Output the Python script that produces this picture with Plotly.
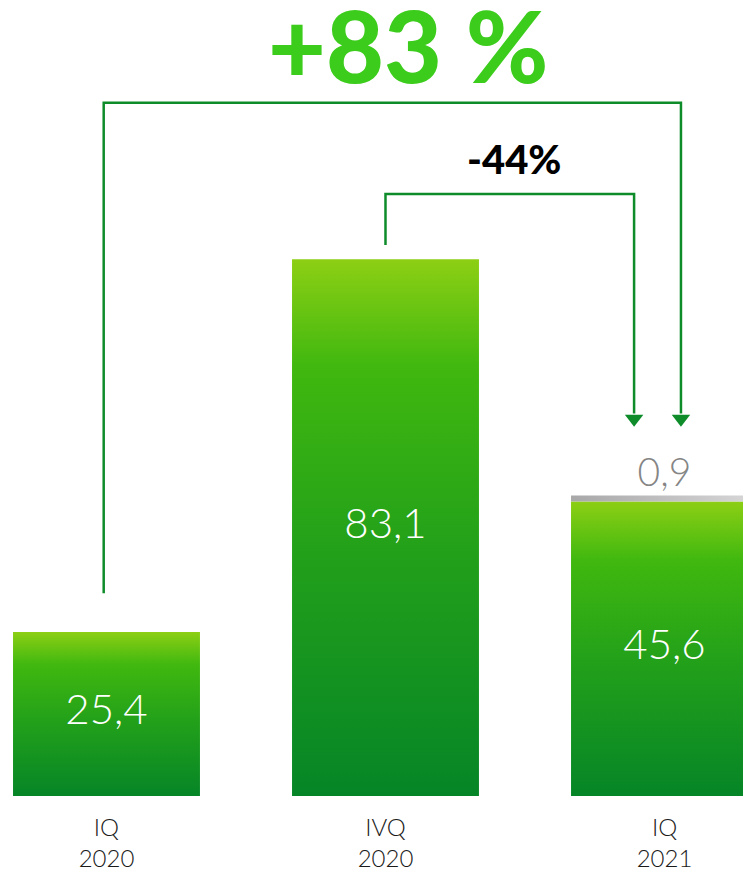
import plotly.graph_objects as go

categories = ["IQ<br>2020", "IVQ<br>2020", "IQ<br>2021"]
main_values = [25.4, 83.1, 45.6]
main_labels = ["25,4", "83,1", "45,6"]
extra_values = [0, 0, 0.9]
extra_labels = ["", "", "0,9"]
growth_label = "+83 %"
qoq_label = "-44%"

BAR_W = 0.67
grad = [[0, "#068527"], [0.45, "#22a01a"], [0.8, "#40b80f"], [1, "#8dcf14"]]
ARROW = "#0f8c2a"

fig = go.Figure()

for i, (v, e) in enumerate(zip(main_values, extra_values)):
    x0, x1 = i - BAR_W / 2, i + BAR_W / 2
    fig.add_trace(go.Scatter(
        x=[x0, x1, x1, x0, x0], y=[0, 0, v, v, 0], mode="lines",
        line=dict(width=0), fill="toself",
        fillgradient=dict(type="vertical", colorscale=grad),
        hoverinfo="skip", showlegend=False))
    if e > 0:
        fig.add_trace(go.Scatter(
            x=[x0, x1, x1, x0, x0], y=[v, v, v + e, v + e, v], mode="lines",
            line=dict(width=0), fill="toself",
            fillgradient=dict(type="horizontal",
                              colorscale=[[0, "#a8a8a8"], [1, "#d8d8d8"]]),
            hoverinfo="skip", showlegend=False))

# value labels inside bars
fig.add_trace(go.Scatter(
    x=list(range(len(main_values))), y=[v / 2 for v in main_values],
    mode="text", text=main_labels,
    textfont=dict(family="Lato", size=42, color="white", weight=300),
    hoverinfo="skip", showlegend=False))

# extra labels above
ex_x = [i for i, e in enumerate(extra_values) if e > 0]
fig.add_trace(go.Scatter(
    x=ex_x, y=[main_values[i] + extra_values[i] for i in ex_x],
    mode="text", text=[extra_labels[i] for i in ex_x], textposition="top center",
    textfont=dict(family="Lato", size=39, color="#858585", weight=300),
    hoverinfo="skip", showlegend=False))

# arrows (positions relative to bars)
def elbow(x_start, y_start, y_top, x_end, y_tip):
    fig.add_trace(go.Scatter(
        x=[x_start, x_start, x_end, x_end], y=[y_start, y_top, y_top, y_tip + 2.0],
        mode="lines", line=dict(color=ARROW, width=2.5),
        hoverinfo="skip", showlegend=False))
    fig.add_trace(go.Scatter(
        x=[x_end], y=[y_tip + 1.2], mode="markers",
        marker=dict(symbol="triangle-down", size=16, color=ARROW),
        hoverinfo="skip", showlegend=False))

tip_y = 57.2
elbow(-0.01, 31.4, 107.3, 2.059, tip_y)
elbow(1.0, 85.3, 93.2, 1.891, tip_y)

fig.add_annotation(x=1.08, y=116.4, text=growth_label, showarrow=False,
                   font=dict(family="Lato", size=100, color="#3ccc1c", weight=900),
                   xanchor="center", yanchor="middle")
fig.add_annotation(x=1.46, y=98.6, text=qoq_label, showarrow=False,
                   font=dict(family="Lato", size=40, color="#000000", weight=900),
                   xanchor="center", yanchor="middle")

fig.update_layout(
    width=751, height=875,
    margin=dict(l=0, r=0, t=0, b=87),
    paper_bgcolor="white", plot_bgcolor="white",
    xaxis=dict(range=[-0.353, 2.3387], tickvals=[0, 1, 2], ticktext=categories,
               showgrid=False, zeroline=False, showline=False, ticks="",
               ticklabelstandoff=15,
               tickfont=dict(family="Lato", size=24, color="#1a1a1a", weight=300),
               fixedrange=True),
    yaxis=dict(range=[0, 121.98], visible=False, fixedrange=True),
    showlegend=False,
)

fig.write_html("out.html")
